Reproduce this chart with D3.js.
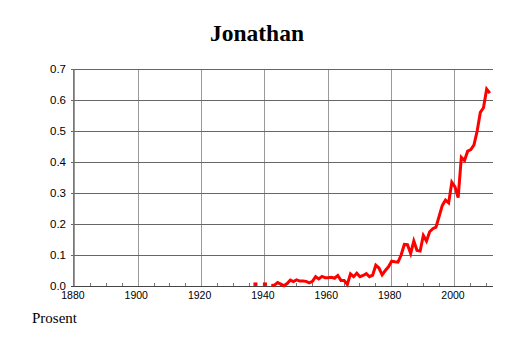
<!DOCTYPE html>
<html>
<head>
<meta charset="utf-8">
<script src="https://cdn.jsdelivr.net/npm/d3@7"></script>
<style>
  body { margin: 0; background: #fff; }
</style>
</head>
<body>
<div id="chart"></div>
<script>
// share of babies named Jonathan, per year (percent); null = no data
const years = d3.range(1937, 2013);
const values = [
  0.005, null, null, 0.005, null, 0.002, 0.003, 0.011, 0.006, 0.001,
  0.008, 0.019, 0.014, 0.020, 0.016, 0.016, 0.015, 0.010, 0.015, 0.030,
  0.023, 0.031, 0.027, 0.027, 0.028, 0.025, 0.034, 0.018, 0.018, 0.005,
  0.039, 0.030, 0.041, 0.030, 0.034, 0.040, 0.030, 0.035, 0.067, 0.058,
  0.036, 0.050, 0.062, 0.080, 0.078, 0.077, 0.100, 0.134, 0.133, 0.105,
  0.145, 0.115, 0.113, 0.163, 0.145, 0.175, 0.185, 0.190, 0.225, 0.260,
  0.277, 0.268, 0.335, 0.320, 0.285, 0.415, 0.405, 0.435, 0.440, 0.455,
  0.500, 0.560, 0.575, 0.635, 0.622
];
const xMajorTicks = [1880, 1900, 1920, 1940, 1960, 1980, 2000];
const yTicks = [0.0, 0.1, 0.2, 0.3, 0.4, 0.5, 0.6, 0.7];
const title = 'Jonathan';
const yLabel = 'Prosent';

const width = 514, height = 343;
const svg = d3.select('#chart').append('svg')
  .attr('width', width).attr('height', height);

const x = d3.scaleLinear().domain([1879.4, 2012]).range([73, 493]);
const y = d3.scaleLinear().domain([0, 0.7]).range([286, 69]);

// vertical grid
svg.selectAll('.vgrid').data(xMajorTicks).enter().append('line')
  .attr('x1', d => x(d)).attr('x2', d => x(d))
  .attr('y1', y(0.7)).attr('y2', y(0))
  .attr('stroke', '#999').attr('stroke-width', 1)
  .attr('shape-rendering', 'crispEdges');

// horizontal grid
svg.selectAll('.hgrid').data(yTicks).enter().append('line')
  .attr('x1', x.range()[0] - 2).attr('x2', x.range()[1])
  .attr('y1', d => y(d)).attr('y2', d => y(d))
  .attr('stroke', d => d === 0 ? '#444' : '#666').attr('stroke-width', 1)
  .attr('shape-rendering', 'crispEdges');

// y axis line
svg.append('line')
  .attr('x1', x.range()[0]).attr('x2', x.range()[0])
  .attr('y1', y(0.7)).attr('y2', y(0))
  .attr('stroke', '#777').attr('shape-rendering', 'crispEdges');

// minor x ticks every 5 years
const minor = d3.range(1885, 2012, 5).filter(d => d % 20 !== 0);
svg.selectAll('.minor').data(minor).enter().append('line')
  .attr('x1', d => x(d)).attr('x2', d => x(d))
  .attr('y1', y(0) - 3).attr('y2', y(0))
  .attr('stroke', '#777').attr('shape-rendering', 'crispEdges');

// tick labels
svg.selectAll('.ylab').data(yTicks).enter().append('text')
  .attr('x', 66).attr('y', d => y(d) + 4)
  .attr('text-anchor', 'end')
  .attr('font-family', 'Liberation Sans, Arial, sans-serif')
  .attr('font-size', 11.5)
  .text(d => d.toFixed(1));

svg.selectAll('.xlab').data(xMajorTicks).enter().append('text')
  .attr('x', d => x(d) - 2).attr('y', 299)
  .attr('text-anchor', 'middle')
  .attr('font-family', 'Liberation Sans, Arial, sans-serif')
  .attr('font-size', 10.5)
  .text(d => d);

// data line
const data = years.map((yr, i) => ({ year: yr, value: values[i] }));
const line = d3.line()
  .defined(d => d.value !== null)
  .x(d => x(d.year))
  .y(d => y(d.value));

svg.append('path')
  .datum(data)
  .attr('d', line)
  .attr('fill', 'none')
  .attr('stroke', '#ff0000')
  .attr('stroke-width', 3)
  .attr('stroke-linejoin', 'miter');

// isolated points (no neighbours) drawn as short dots
const isolated = data.filter((d, i) => d.value !== null &&
  (i === 0 || data[i - 1].value === null) &&
  (i === data.length - 1 || data[i + 1].value === null));
svg.selectAll('.dot').data(isolated).enter().append('rect')
  .attr('x', d => x(d.year) - 2).attr('y', d => y(d.value) - 2)
  .attr('width', 4).attr('height', 3.5)
  .attr('fill', '#ff0000');

// title
svg.append('text')
  .attr('x', 257).attr('y', 41)
  .attr('text-anchor', 'middle')
  .attr('font-family', 'Liberation Serif, Times New Roman, serif')
  .attr('font-weight', 'bold')
  .attr('font-size', 23.5)
  .text(title);

svg.append('text')
  .attr('x', 32).attr('y', 323)
  .attr('font-family', 'Liberation Serif, Times New Roman, serif')
  .attr('font-size', 15)
  .text(yLabel);
</script>
</body>
</html>
